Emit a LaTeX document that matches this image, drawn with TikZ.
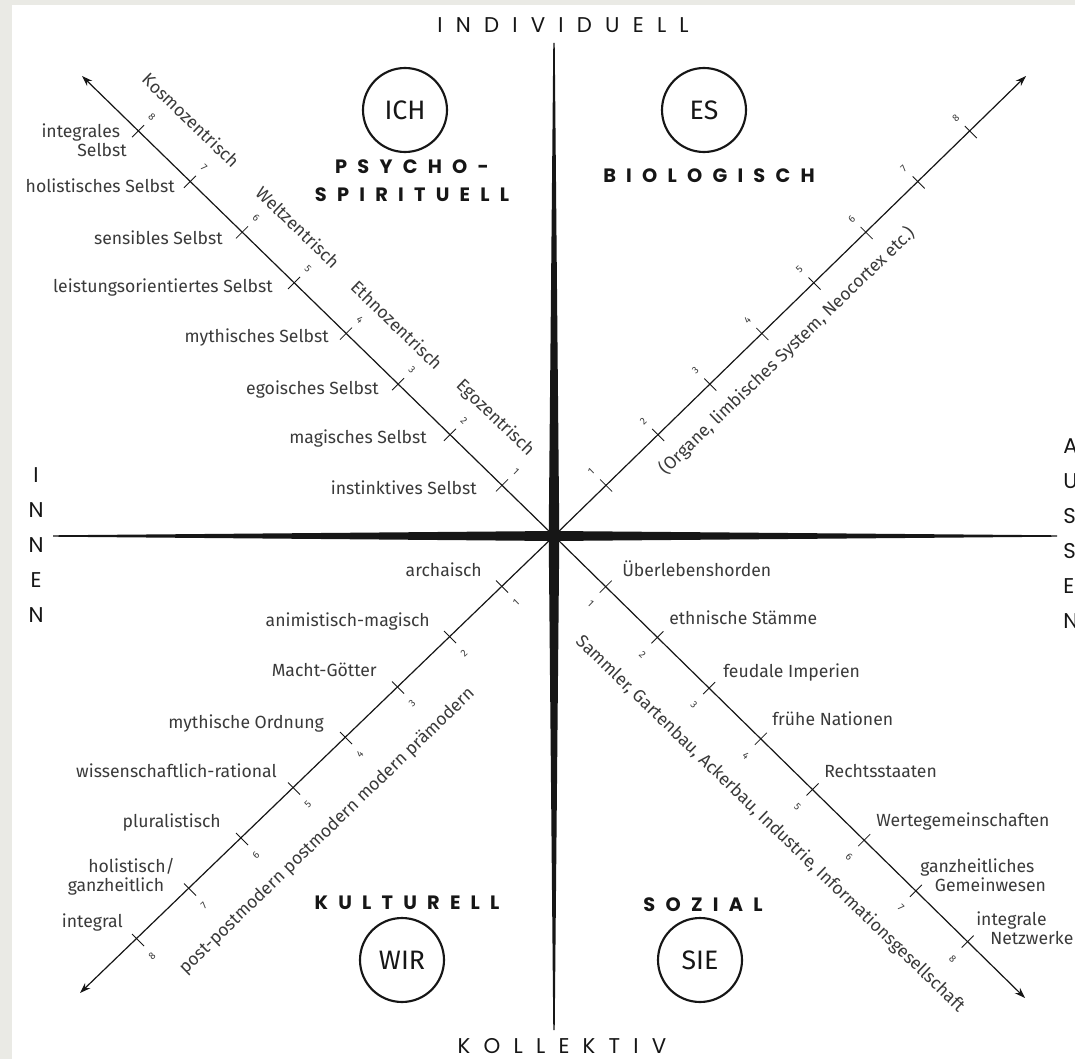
\documentclass[tikz,border=0pt]{standalone}
\usepackage{fontspec}
\setmainfont{Fira Sans}
\newfontfamily\capsfont[LetterSpace=62]{Poppins}
\newfontfamily\titlefont[LetterSpace=53]{Poppins}
\usetikzlibrary{arrows.meta, calc}
\definecolor{paper}{HTML}{EAEAE5}
\definecolor{ink}{HTML}{161616}
\definecolor{lbl}{HTML}{3A3A3A}
\tikzset{
  lbl/.style={text=lbl, font=\fontsize{13.2}{15}\selectfont, inner sep=0pt, text height=8pt, text depth=2.3pt},
  twoline/.style={text=lbl, font=\fontsize{13.2}{14.5}\selectfont, inner sep=0pt},
  stage/.style={text=lbl, font=\fontsize{13.2}{15}\selectfont, inner sep=0pt},
  num/.style={text=lbl, font=\fontsize{7.5}{8}\selectfont, inner sep=0pt},
  title/.style={text=ink, font=\titlefont\bfseries\fontsize{14.5}{21}\selectfont, inner sep=0pt},
  axislbl/.style={text=ink, font=\capsfont\fontsize{16}{26.25}\selectfont, inner sep=0pt},
  ring/.style={draw=ink, line width=1.6pt, circle, minimum size=63pt, inner sep=0pt,
    text=ink, font=\fontsize{20}{22}\selectfont},
  diag/.style={draw=ink, line width=0.9pt},
  tickmark/.style={draw=ink, line width=0.6pt}
}

\begin{document}
\begin{tikzpicture}[x=0.75pt, y=-0.75pt, >={Stealth[length=8pt,width=5.5pt]}]
  \useasboundingbox (0,0) rectangle (1075,1059);
  \clip (0,0) rectangle (1075,1059);
  \fill[paper] (0,0) rectangle (1075,1059);
  \fill[white] (12,5) rectangle (1075,1059);

  \coordinate (O) at (554,536);
  \coordinate (top) at (554,43);
  \coordinate (bot) at (554,1030);
  \coordinate (lft) at (53,536);
  \coordinate (rgt) at (1057,536);
  \fill[ink] ($(top)+(-0.7,0)$) -- ($(O)+(-5.3,0)$) -- ($(bot)+(-0.7,0)$)
    -- ($(bot)+(0.7,0)$) -- ($(O)+(5.3,0)$) -- ($(top)+(0.7,0)$) -- cycle;
  \fill[ink] ($(lft)+(0,-0.7)$) -- ($(O)+(0,-5)$) -- ($(rgt)+(0,-0.7)$)
    -- ($(rgt)+(0,0.7)$) -- ($(O)+(0,5)$) -- ($(lft)+(0,0.7)$) -- cycle;

  \coordinate (ultip) at (82,76);
  \coordinate (urtip) at (1026,76);
  \coordinate (lltip) at (80,993);
  \coordinate (lrtip) at (1025,998);
  \draw[diag,->] (O) -- (ultip);
  \draw[diag,->] (O) -- (urtip);
  \draw[diag,->] (O) -- (lltip);
  \draw[diag,->] (O) -- (lrtip);

  \foreach \k in {1,...,8} {
    \coordinate (ul\k) at ($(O)+\k*(-52,-50.6)$);
    \coordinate (ur\k) at ($(O)+\k*(52.1,-50.5)$);
    \coordinate (ll\k) at ($(O)+\k*(-52,50.5)$);
    \coordinate (lr\k) at ($(O)+\k*(51.7,50.7)$);
    \draw[tickmark] ($(ul\k)+(-6,6)$) -- ($(ul\k)+(6,-6)$);
    \draw[tickmark] ($(ur\k)+(-6,-6)$) -- ($(ur\k)+(6,6)$);
    \draw[tickmark] ($(ll\k)+(-6,-6)$) -- ($(ll\k)+(6,6)$);
    \draw[tickmark] ($(lr\k)+(-6,6)$) -- ($(lr\k)+(6,-6)$);
    \node[num, rotate=-44] (ulnum\k) at ($(ul\k)+(14,-14)$) {\k};
    \node[num, rotate=44] (urnum\k) at ($(ur\k)+(-15,-14)$) {\k};
    \node[num, rotate=44] (llnum\k) at ($(ll\k)+(14,16)$) {\k};
    \node[num, rotate=-44] (lrnum\k) at ($(lr\k)+(-15,17)$) {\k};
  }

  \node[twoline, align=right, anchor=east] (selbst8) at (127,140) {integrales\hspace*{5pt}\\Selbst};
  \node[lbl, anchor=east] (selbst7) at (175,189) {holistisches Selbst};
  \node[lbl, anchor=east] (selbst6) at (223,241) {sensibles Selbst};
  \node[lbl, anchor=east] (selbst5) at (273,289) {leistungsorientiertes Selbst};
  \node[lbl, anchor=east] (selbst4) at (329,339) {mythisches Selbst};
  \node[lbl, anchor=east] (selbst3) at (379,391) {egoisches Selbst};
  \node[lbl, anchor=east] (selbst2) at (427,440) {magisches Selbst};
  \node[lbl, anchor=east] (selbst1) at (477,491) {instinktives Selbst};

  \node[stage, rotate=-44] (kosmo) at (191,120) {Kosmozentrisch};
  \node[stage, rotate=-44] (welt) at (298,227) {Weltzentrisch};
  \node[stage, rotate=-44] (ethno) at (397,325) {Ethnozentrisch};
  \node[stage, rotate=-44] (ego) at (495,418) {Egozentrisch};

  \node[stage, rotate=44] (organe) at (787,351) {(Organe, limbisches System, Neocortex etc.)};

  \node[lbl, anchor=east] (kult1) at (482,573) {archaisch};
  \node[lbl, anchor=east] (kult2) at (430,623) {animistisch-magisch};
  \node[lbl, anchor=east] (kult3) at (377,673) {Macht-Götter};
  \node[lbl, anchor=east] (kult4) at (324,725) {mythische Ordnung};
  \node[lbl, anchor=east] (kult5) at (277,774) {wissenschaftlich-rational};
  \node[lbl, anchor=east] (kult6) at (221,824) {pluralistisch};
  \node[twoline, align=right, anchor=east] (kult7) at (175,877) {holistisch/\\ganzheitlich\hspace*{8pt}};
  \node[lbl, anchor=east] (kult8) at (123,924) {integral};

  \node[stage, rotate=44] (epochen) at (327,831) {post-postmodern postmodern modern prämodern};

  \node[lbl, anchor=west] (soz1) at (622,573) {Überlebenshorden};
  \node[lbl, anchor=west] (soz2) at (669,621) {ethnische Stämme};
  \node[lbl, anchor=west] (soz3) at (723,674) {feudale Imperien};
  \node[lbl, anchor=west] (soz4) at (772,722) {frühe Nationen};
  \node[lbl, anchor=west] (soz5) at (824,774) {Rechtsstaaten};
  \node[lbl, anchor=west] (soz6) at (876,823) {Wertegemeinschaften};
  \node[twoline, align=left, anchor=west] (soz7) at (920,875) {ganzheitliches\\\hspace*{11pt}Gemeinwesen};
  \node[twoline, align=left, anchor=west] (soz8) at (976,928) {integrale\\\hspace*{10.5pt}Netzwerke};

  \node[stage, rotate=-44] (wirtschaft) at (770,824) {Sammler, Gartenbau, Ackerbau, Industrie, Informationsgesellschaft};

  \node[ring] (ich) at (405,110) {ICH};
  \node[ring] (es) at (704,110) {ES};
  \node[ring] (wir) at (402,960) {WIR};
  \node[ring] (sie) at (700,960) {SIE};
  \node[title, align=center] (psycho) at (412,181) {PSYCHO-\\SPIRITUELL};
  \node[title] (bio) at (709,176) {BIOLOGISCH};
  \node[title] (kultur) at (407,903) {KULTURELL};
  \node[title] (sozial) at (703,905) {SOZIAL};

  \node[axislbl] (indiv) at (563,25) {INDIVIDUELL};
  \node[axislbl, text depth=0pt] (kollektiv) at (562,1046) {KOLLEKTIV};
  \node[axislbl, align=center] (innen) at (36,545) {I\\N\\N\\E\\N};
  \node[axislbl, align=left, anchor=west] (aussen) at (1063,534) {A\\U\\S\\S\\E\\N};
\end{tikzpicture}
\end{document}
